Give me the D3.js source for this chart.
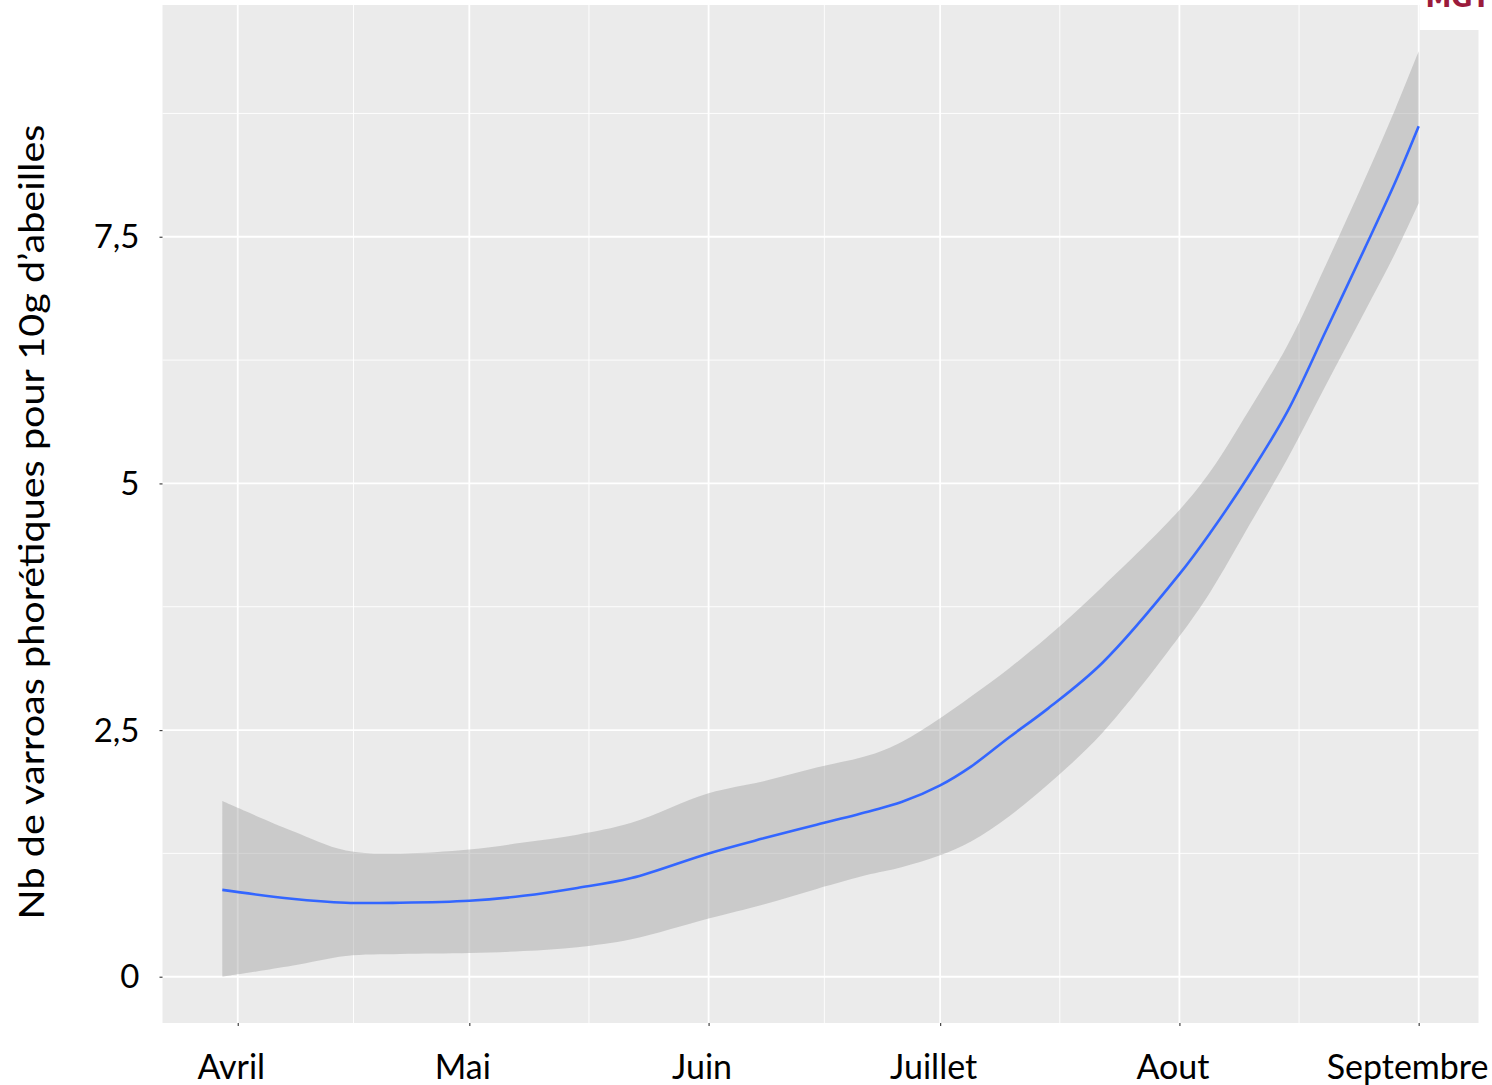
<!DOCTYPE html>
<html>
<head>
<meta charset="utf-8">
<script src="https://cdn.jsdelivr.net/npm/d3@7"></script>
<style>
  html, body { margin: 0; padding: 0; background: #ffffff; }
  svg { display: block; }
</style>
</head>
<body>
<svg id="chart" width="1492" height="1085"></svg>
<script>
// Smoothed trend of phoretic varroa mites per 10 g of bees, with its confidence band
const d = (m, day) => new Date(Date.UTC(2020, m - 1, day));

const dates = [
  d(3,30), d(4,8), d(4,15), d(4,22), d(5,1), d(5,8), d(5,15), d(5,22),
  d(6,1), d(6,8), d(6,15), d(6,22), d(6,26), d(7,1), d(7,5), d(7,10), d(7,15),
  d(7,22), d(8,1), d(8,5), d(8,10), d(8,15), d(8,20), d(8,25), d(8,29), d(9,1)
];
const fitted = [
  0.88, 0.79, 0.75, 0.75, 0.77, 0.82, 0.90, 1.00,
  1.25, 1.40, 1.54, 1.68, 1.77, 1.94, 2.13, 2.43, 2.72,
  3.18, 4.08, 4.50, 5.08, 5.73, 6.55, 7.38, 8.06, 8.62
];
const upper = [
  1.78, 1.48, 1.28, 1.25, 1.29, 1.36, 1.44, 1.56,
  1.86, 1.98, 2.12, 2.25, 2.38, 2.62, 2.84, 3.13, 3.45,
  3.95, 4.73, 5.12, 5.74, 6.40, 7.22, 8.08, 8.80, 9.38
];
const lower = [
  0.00, 0.11, 0.21, 0.23, 0.24, 0.26, 0.30, 0.38,
  0.59, 0.73, 0.89, 1.04, 1.11, 1.23, 1.37, 1.63, 1.95,
  2.47, 3.45, 3.90, 4.57, 5.25, 6.00, 6.74, 7.34, 7.84
];

const monthDates = [d(4,1), d(5,1), d(6,1), d(7,1), d(8,1), d(9,1)];
const monthLabels = ["Avril", "Mai", "Juin", "Juillet", "Aout", "Septembre"];
const yTicks = [0, 2.5, 5, 7.5];
const yMinor = [1.25, 3.75, 6.25, 8.75];
const yTitle = "Nb de varroas phorétiques pour 10g d’abeilles";

const panel = { left: 162.5, right: 1478.5, top: 5, bottom: 1023 };
const svg = d3.select("#chart");
const fmt = v => d3.format("~g")(v).replace(".", ",");
const font = "Lato, 'Open Sans', sans-serif";

// padded domains, 5% on each side of the data range
const xExt = d3.extent(dates);
const xPad = (xExt[1] - xExt[0]) * 0.05;
const x = d3.scaleUtc()
  .domain([new Date(+xExt[0] - xPad), new Date(+xExt[1] + xPad)])
  .range([panel.left, panel.right]);
const yLo = d3.min(lower), yHi = d3.max(upper);
const yPad = (yHi - yLo) * 0.05;
const y = d3.scaleLinear()
  .domain([yLo - yPad, yHi + yPad])
  .range([panel.bottom, panel.top]);

// panel background
svg.append("rect")
  .attr("x", panel.left).attr("y", panel.top)
  .attr("width", panel.right - panel.left).attr("height", panel.bottom - panel.top)
  .attr("fill", "#ebebeb");

// gridlines
const xMinor = d3.pairs(monthDates).map(([a, b]) => new Date((+a + +b) / 2));
const grid = svg.append("g");
grid.selectAll(".ym").data(yMinor).join("line")
  .attr("x1", panel.left).attr("x2", panel.right)
  .attr("y1", v => y(v)).attr("y2", v => y(v))
  .attr("stroke", "#ffffff").attr("stroke-width", 0.9);
grid.selectAll(".xm").data(xMinor).join("line")
  .attr("y1", panel.top).attr("y2", panel.bottom)
  .attr("x1", t => x(t)).attr("x2", t => x(t))
  .attr("stroke", "#ffffff").attr("stroke-width", 0.9);
grid.selectAll(".yM").data(yTicks).join("line")
  .attr("x1", panel.left).attr("x2", panel.right)
  .attr("y1", v => y(v)).attr("y2", v => y(v))
  .attr("stroke", "#ffffff").attr("stroke-width", 1.8);
grid.selectAll(".xM").data(monthDates).join("line")
  .attr("y1", panel.top).attr("y2", panel.bottom)
  .attr("x1", t => x(t)).attr("x2", t => x(t))
  .attr("stroke", "#ffffff").attr("stroke-width", 1.8);

// confidence band and fitted curve
const rows = dates.map((t, i) => ({ t, fit: fitted[i], lo: lower[i], hi: upper[i] }));
const smooth = d3.curveCatmullRom.alpha(0.5);
svg.append("path")
  .datum(rows)
  .attr("d", d3.area().x(r => x(r.t)).y0(r => y(r.lo)).y1(r => y(r.hi)).curve(smooth))
  .attr("fill", "#999999").attr("fill-opacity", 0.4);
svg.append("path")
  .datum(rows)
  .attr("d", d3.line().x(r => x(r.t)).y(r => y(r.fit)).curve(smooth))
  .attr("fill", "none").attr("stroke", "#3366ff").attr("stroke-width", 2.6);

// y axis
const yAxis = svg.append("g")
  .attr("transform", `translate(${panel.left},0)`)
  .call(d3.axisLeft(y).tickValues(yTicks).tickSize(3).tickPadding(20).tickFormat(fmt));
yAxis.select(".domain").remove();
yAxis.selectAll(".tick line").attr("stroke", "#444").attr("stroke-width", 1.2);
yAxis.selectAll(".tick text")
  .attr("font-family", font).attr("font-size", 33)
  .attr("fill", "#000").attr("dy", "0.34em");

// x axis
const xAxis = svg.append("g")
  .attr("transform", `translate(0,${panel.bottom})`)
  .call(d3.axisBottom(x).tickValues(monthDates).tickSize(3).tickFormat((t, i) => monthLabels[i]));
xAxis.select(".domain").remove();
xAxis.selectAll(".tick line").attr("stroke", "#444").attr("stroke-width", 1.2);
xAxis.selectAll(".tick text")
  .attr("font-family", font).attr("font-size", 34)
  .attr("fill", "#000").attr("y", 56).attr("dy", 0).attr("dx", -7);
// keep the last month label inside the frame
xAxis.selectAll(".tick text").each(function () {
  const tx = x(d3.select(this.parentNode).datum());
  const w = this.getComputedTextLength();
  if (tx - 7 + w / 2 > 1488) d3.select(this).attr("dx", 1488 - w / 2 - tx);
});

// y axis title
svg.append("text")
  .attr("transform", "translate(44,522) rotate(-90)")
  .attr("text-anchor", "middle")
  .attr("font-family", font)
  .attr("font-size", 35)
  .attr("textLength", 795).attr("lengthAdjust", "spacingAndGlyphs")
  .attr("fill", "#000")
  .text(yTitle);

// logo corner in the top-right
svg.append("rect")
  .attr("x", x(monthDates[5]) + 1).attr("y", 0)
  .attr("width", 1492 - x(monthDates[5])).attr("height", 30)
  .attr("fill", "#ffffff");
svg.append("text")
  .attr("x", 1490).attr("y", 7)
  .attr("text-anchor", "end")
  .attr("font-family", "'DejaVu Sans', sans-serif")
  .attr("font-weight", "bold").attr("font-size", 26)
  .attr("fill", "#9b1b3b")
  .text("MGT");
</script>
</body>
</html>
